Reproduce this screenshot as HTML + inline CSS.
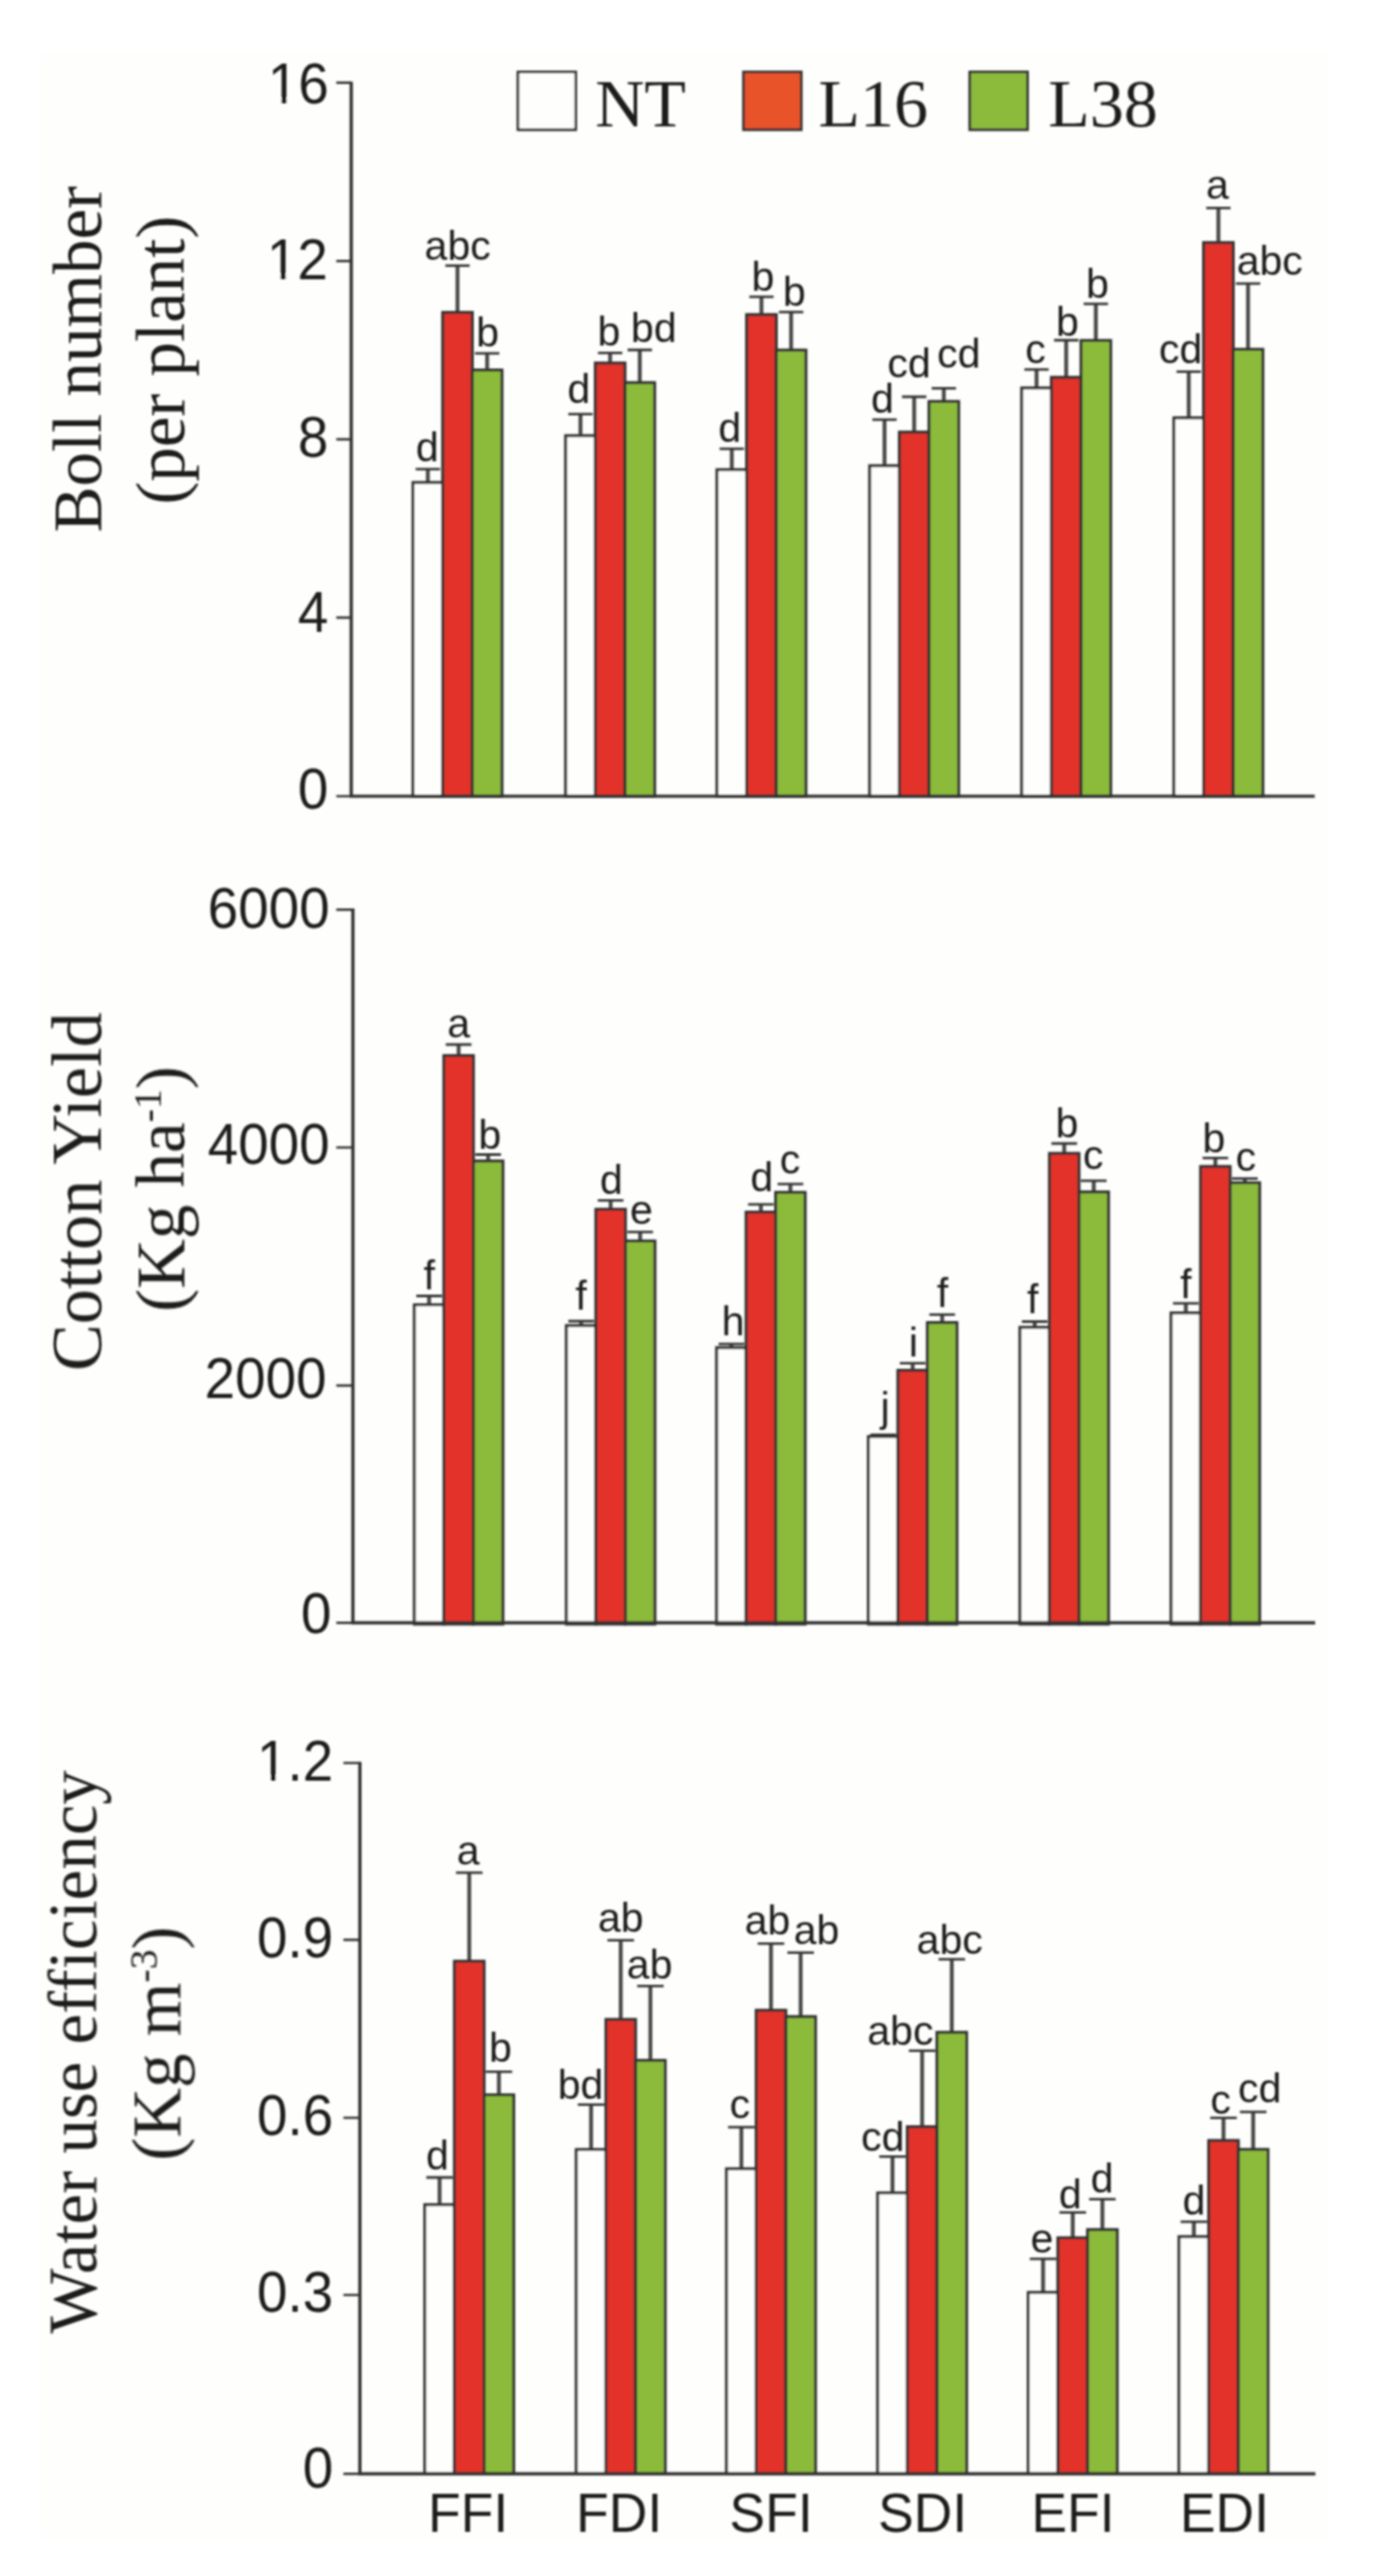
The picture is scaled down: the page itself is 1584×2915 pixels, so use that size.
<!DOCTYPE html>
<html lang="en">
<head>
<meta charset="utf-8">
<title>Boll number, cotton yield and water use efficiency</title>
<style>
html,body{margin:0;padding:0;background:#ffffff;}
body{width:1584px;height:2915px;overflow:hidden;}
svg{display:block;}
.ax{font-family:"Liberation Sans",Arial,Helvetica,sans-serif;font-size:62px;fill:#1e1e1e;}
.lb{font-family:"Liberation Sans",Arial,Helvetica,sans-serif;font-size:46.5px;fill:#1e1e1e;}
.sf{font-family:"Liberation Serif","Times New Roman",Times,serif;font-size:78px;fill:#1c1c1c;}
</style>
</head>
<body>
<svg width="1584" height="2915" viewBox="0 0 1584 2915">
<rect x="0" y="0" width="1584" height="2915" fill="#ffffff"/>
<rect x="44.5" y="60" width="1458.5" height="2813.5" fill="#fefefc"/>
<defs><filter id="soft" x="0" y="0" width="1584" height="2915" filterUnits="userSpaceOnUse"><feGaussianBlur stdDeviation="0.9"/></filter></defs>
<g filter="url(#soft)">
<g>
<path d="M484.07 546V530.8M517.62 353.5V300.6M551.17 418.7V399.8M656.77 493V468.6M690.32 410.8V399.3M723.88 433V396M827.98 531.5V507.8M861.52 356V335.8M895.08 396.2V353.2M1000.77 527V474.8M1034.33 489V449M1067.88 454.3V439.3M1172.78 439V418.2M1206.33 427V385M1239.88 385.3V343.8M1344.98 472.8V420.6M1378.53 274.5V235.3M1412.08 395.3V320.8" fill="none" stroke="#484848" stroke-width="4.4"/>
<path d="M470.32 530.8H497.82M503.88 300.6H531.38M537.42 399.8H564.92M643.02 468.6H670.52M676.57 399.3H704.07M710.12 396H737.62M814.23 507.8H841.73M847.77 335.8H875.27M881.33 353.2H908.83M987.02 474.8H1014.52M1020.58 449H1048.08M1054.12 439.3H1081.62M1159.03 418.2H1186.53M1192.58 385H1220.08M1226.12 343.8H1253.62M1331.23 420.6H1358.73M1364.78 235.3H1392.28M1398.33 320.8H1425.83" fill="none" stroke="#303030" stroke-width="2.8"/>
<g stroke="#303030" stroke-width="3.3"><rect x="467.3" y="546" width="33.55" height="355" fill="#fefefd"/><rect x="500.85" y="353.5" width="33.55" height="547.5" fill="#e3302a"/><rect x="534.4" y="418.7" width="33.55" height="482.3" fill="#8cbb3a"/><rect x="640" y="493" width="33.55" height="408" fill="#fefefd"/><rect x="673.55" y="410.8" width="33.55" height="490.2" fill="#e3302a"/><rect x="707.1" y="433" width="33.55" height="468" fill="#8cbb3a"/><rect x="811.2" y="531.5" width="33.55" height="369.5" fill="#fefefd"/><rect x="844.75" y="356" width="33.55" height="545" fill="#e3302a"/><rect x="878.3" y="396.2" width="33.55" height="504.8" fill="#8cbb3a"/><rect x="984" y="527" width="33.55" height="374" fill="#fefefd"/><rect x="1017.55" y="489" width="33.55" height="412" fill="#e3302a"/><rect x="1051.1" y="454.3" width="33.55" height="446.7" fill="#8cbb3a"/><rect x="1156" y="439" width="33.55" height="462" fill="#fefefd"/><rect x="1189.55" y="427" width="33.55" height="474" fill="#e3302a"/><rect x="1223.1" y="385.3" width="33.55" height="515.7" fill="#8cbb3a"/><rect x="1328.2" y="472.8" width="33.55" height="428.2" fill="#fefefd"/><rect x="1361.75" y="274.5" width="33.55" height="626.5" fill="#e3302a"/><rect x="1395.3" y="395.3" width="33.55" height="505.7" fill="#8cbb3a"/></g>
<path d="M397.4 92.4V901H1487.5" fill="none" stroke="#303030" stroke-width="3.7"/>
<path d="M380.5 93.7H397.4M380.5 295.4H397.4M380.5 497.2H397.4M380.5 698.9H397.4M380.5 901H397.4" fill="none" stroke="#303030" stroke-width="2.7"/>
<g class="ax" text-anchor="end">
<text transform="translate(372 116.61) scale(1 1.06)">16</text>
<text transform="translate(371 315.91) scale(1 1.06)">12</text>
<text transform="translate(371.5 517.11) scale(1 1.06)">8</text>
<text transform="translate(371.5 714.61) scale(1 1.06)">4</text>
<text transform="translate(371.5 914.61) scale(1 1.06)">0</text>
</g>
<g fill="#fefefc"><rect x="306.76" y="111.1" width="11.67" height="6.51"/><rect x="324.31" y="111.1" width="11.18" height="6.51"/><rect x="305.76" y="310.4" width="11.67" height="6.51"/><rect x="323.31" y="310.4" width="11.18" height="6.51"/></g>
<g class="lb" text-anchor="middle">
<text x="483.32" y="522">d</text>
<text x="517.83" y="294">abc</text>
<text x="551.68" y="392">b</text>
<text x="654.82" y="456">d</text>
<text x="688.88" y="390.9">b</text>
<text x="739.7" y="386.9">bd</text>
<text x="825.72" y="500">d</text>
<text x="863.28" y="328.6">b</text>
<text x="898.58" y="345.7">b</text>
<text x="998.52" y="467.1">d</text>
<text x="1028.51" y="426.6">cd</text>
<text x="1084.81" y="415.7">cd</text>
<text x="1171.63" y="410.6">c</text>
<text x="1207.78" y="380.3">b</text>
<text x="1241.78" y="336.9">b</text>
<text x="1335.91" y="411.4">cd</text>
<text x="1377.51" y="225">a</text>
<text x="1436.63" y="310.5">abc</text>
</g>
</g>
<g>
<path d="M485.5 1476.5V1466.5M518.9 1194.5V1182M552.3 1313.8V1306.5M657.5 1500V1495M690.9 1368.4V1358.3M724.3 1404.3V1394.2M827.5 1525V1520.8M860.9 1371.6V1362.9M894.3 1349.3V1339.9M999.2 1625.6V1623.6M1032.6 1550.6V1542.6M1066 1496.6V1487.6M1170.7 1502V1495.5M1204.1 1305.2V1294M1237.5 1348.8V1336.2M1341.7 1485.7V1474.8M1375.1 1320V1310.3M1408.5 1338.4V1333.6" fill="none" stroke="#484848" stroke-width="4.4"/>
<path d="M471 1466.5H500M504.4 1182H533.4M537.8 1306.5H566.8M643 1495H672M676.4 1358.3H705.4M709.8 1394.2H738.8M813 1520.8H842M846.4 1362.9H875.4M879.8 1339.9H908.8M984.7 1623.6H1013.7M1018.1 1542.6H1047.1M1051.5 1487.6H1080.5M1156.2 1495.5H1185.2M1189.6 1294H1218.6M1223 1336.2H1252M1327.2 1474.8H1356.2M1360.6 1310.3H1389.6M1394 1333.6H1423" fill="none" stroke="#303030" stroke-width="2.8"/>
<g stroke="#303030" stroke-width="3.3"><rect x="468.8" y="1476.5" width="33.4" height="361.3" fill="#fefefd"/><rect x="502.2" y="1194.5" width="33.4" height="643.3" fill="#e3302a"/><rect x="535.6" y="1313.8" width="33.4" height="524" fill="#8cbb3a"/><rect x="640.8" y="1500" width="33.4" height="337.8" fill="#fefefd"/><rect x="674.2" y="1368.4" width="33.4" height="469.4" fill="#e3302a"/><rect x="707.6" y="1404.3" width="33.4" height="433.5" fill="#8cbb3a"/><rect x="810.8" y="1525" width="33.4" height="312.8" fill="#fefefd"/><rect x="844.2" y="1371.6" width="33.4" height="466.2" fill="#e3302a"/><rect x="877.6" y="1349.3" width="33.4" height="488.5" fill="#8cbb3a"/><rect x="982.5" y="1625.6" width="33.4" height="212.2" fill="#fefefd"/><rect x="1015.9" y="1550.6" width="33.4" height="287.2" fill="#e3302a"/><rect x="1049.3" y="1496.6" width="33.4" height="341.2" fill="#8cbb3a"/><rect x="1154" y="1502" width="33.4" height="335.8" fill="#fefefd"/><rect x="1187.4" y="1305.2" width="33.4" height="532.6" fill="#e3302a"/><rect x="1220.8" y="1348.8" width="33.4" height="489" fill="#8cbb3a"/><rect x="1325" y="1485.7" width="33.4" height="352.1" fill="#fefefd"/><rect x="1358.4" y="1320" width="33.4" height="517.8" fill="#e3302a"/><rect x="1391.8" y="1338.4" width="33.4" height="499.4" fill="#8cbb3a"/></g>
<path d="M399.3 1028V1836.4H1488" fill="none" stroke="#303030" stroke-width="3.7"/>
<path d="M380.5 1029.3H399.3M380.5 1298.5H399.3M380.5 1567.8H399.3M380.5 1836.4H399.3" fill="none" stroke="#303030" stroke-width="2.7"/>
<g class="ax" text-anchor="end">
<text transform="translate(373 1049.81) scale(1 1.06)">6000</text>
<text transform="translate(373 1316.81) scale(1 1.06)">4000</text>
<text transform="translate(369.5 1582.21) scale(1 1.06)">2000</text>
<text transform="translate(375 1847.61) scale(1 1.06)">0</text>
</g>
<g class="lb" text-anchor="middle">
<text x="485.64" y="1458.5">f</text>
<text x="519.01" y="1174">a</text>
<text x="554.08" y="1299.7">b</text>
<text x="657.44" y="1482">f</text>
<text x="691.72" y="1351.3">d</text>
<text x="725.65" y="1384.5">e</text>
<text x="829.5" y="1511">h</text>
<text x="862.02" y="1348">d</text>
<text x="893.93" y="1327.8">c</text>
<text x="1001.43" y="1607.5">j</text>
<text x="1033.31" y="1534.7">i</text>
<text x="1066.44" y="1478.7">f</text>
<text x="1168.54" y="1486">f</text>
<text x="1207.28" y="1287">b</text>
<text x="1236.93" y="1323">c</text>
<text x="1341.64" y="1469.2">f</text>
<text x="1373.48" y="1303.7">b</text>
<text x="1409.63" y="1324.9">c</text>
</g>
</g>
<g>
<path d="M497.38 2494.8V2464M530.92 2219.3V2119.1M564.48 2370.5V2344.3M668.77 2432.4V2381.6M702.32 2285.2V2195.7M735.88 2331.5V2247.4M838.77 2454.2V2407.1M872.32 2274.8V2199.4M905.88 2282V2209.6M1009.77 2481.5V2440.3M1043.33 2406.6V2320.7M1076.88 2299.8V2217.2M1180.18 2594.1V2556.1M1213.73 2532.3V2503.7M1247.28 2523V2488.7M1350.78 2531V2514.2M1384.33 2422.2V2396.7M1417.88 2432.3V2389.8" fill="none" stroke="#484848" stroke-width="4.4"/>
<path d="M482.38 2464H512.38M515.92 2119.1H545.92M549.48 2344.3H579.48M653.77 2381.6H683.77M687.32 2195.7H717.32M720.88 2247.4H750.88M823.77 2407.1H853.77M857.32 2199.4H887.32M890.88 2209.6H920.88M994.77 2440.3H1024.78M1028.33 2320.7H1058.33M1061.88 2217.2H1091.88M1165.18 2556.1H1195.18M1198.73 2503.7H1228.73M1232.28 2488.7H1262.28M1335.78 2514.2H1365.78M1369.33 2396.7H1399.33M1402.88 2389.8H1432.88" fill="none" stroke="#303030" stroke-width="2.8"/>
<g stroke="#303030" stroke-width="3.3"><rect x="480.6" y="2494.8" width="33.55" height="304.5" fill="#fefefd"/><rect x="514.15" y="2219.3" width="33.55" height="580" fill="#e3302a"/><rect x="547.7" y="2370.5" width="33.55" height="428.8" fill="#8cbb3a"/><rect x="652" y="2432.4" width="33.55" height="366.9" fill="#fefefd"/><rect x="685.55" y="2285.2" width="33.55" height="514.1" fill="#e3302a"/><rect x="719.1" y="2331.5" width="33.55" height="467.8" fill="#8cbb3a"/><rect x="822" y="2454.2" width="33.55" height="345.1" fill="#fefefd"/><rect x="855.55" y="2274.8" width="33.55" height="524.5" fill="#e3302a"/><rect x="889.1" y="2282" width="33.55" height="517.3" fill="#8cbb3a"/><rect x="993" y="2481.5" width="33.55" height="317.8" fill="#fefefd"/><rect x="1026.55" y="2406.6" width="33.55" height="392.7" fill="#e3302a"/><rect x="1060.1" y="2299.8" width="33.55" height="499.5" fill="#8cbb3a"/><rect x="1163.4" y="2594.1" width="33.55" height="205.2" fill="#fefefd"/><rect x="1196.95" y="2532.3" width="33.55" height="267" fill="#e3302a"/><rect x="1230.5" y="2523" width="33.55" height="276.3" fill="#8cbb3a"/><rect x="1334" y="2531" width="33.55" height="268.3" fill="#fefefd"/><rect x="1367.55" y="2422.2" width="33.55" height="377.1" fill="#e3302a"/><rect x="1401.1" y="2432.3" width="33.55" height="367" fill="#8cbb3a"/></g>
<path d="M407.2 1993.7V2799.3H1488.3" fill="none" stroke="#303030" stroke-width="3.7"/>
<path d="M388.5 1995H407.2M388.5 2195.2H407.2M388.5 2396.5H407.2M388.5 2597H407.2M388.5 2799.3H407.2" fill="none" stroke="#303030" stroke-width="2.7"/>
<g class="ax" text-anchor="end">
<text transform="translate(377 2014.81) scale(1 1.06)">1.2</text>
<text transform="translate(377 2214.61) scale(1 1.06)">0.9</text>
<text transform="translate(377 2415.61) scale(1 1.06)">0.6</text>
<text transform="translate(377 2616.41) scale(1 1.06)">0.3</text>
<text transform="translate(377 2815.11) scale(1 1.06)">0</text>
</g>
<g fill="#fefefc"><rect x="294.53" y="2009.3" width="11.67" height="6.51"/><rect x="312.08" y="2009.3" width="11.18" height="6.51"/></g>
<g class="lb" text-anchor="middle">
<text x="494.92" y="2455.2">d</text>
<text x="529.61" y="2110.3">a</text>
<text x="566.18" y="2333">b</text>
<text x="656.8" y="2374.7">bd</text>
<text x="702.29" y="2185.5">ab</text>
<text x="734.99" y="2239">ab</text>
<text x="837.03" y="2397.3">c</text>
<text x="868.29" y="2188.5">ab</text>
<text x="923.79" y="2199.5">ab</text>
<text x="998.81" y="2433.7">cd</text>
<text x="1018.73" y="2313.7">abc</text>
<text x="1074.53" y="2211.4">abc</text>
<text x="1178.85" y="2549">e</text>
<text x="1211.02" y="2499">d</text>
<text x="1247.02" y="2481">d</text>
<text x="1350.82" y="2506.3">d</text>
<text x="1381.03" y="2392">c</text>
<text x="1425.41" y="2379.4">cd</text>
</g>
</g>
<g class="ax" text-anchor="middle" style="font-size:60.5px">
<text transform="translate(529.61 2865.3) scale(1 1.03)">FFI</text>
<text transform="translate(700.51 2865.3) scale(1 1.03)">FDI</text>
<text transform="translate(872.42 2865.3) scale(1 1.03)">SFI</text>
<text transform="translate(1043.82 2865.3) scale(1 1.03)">SDI</text>
<text transform="translate(1214.01 2865.3) scale(1 1.03)">EFI</text>
<text transform="translate(1385.31 2865.3) scale(1 1.03)">EDI</text>
</g>
<g stroke="#303030" stroke-width="3">
<rect x="586" y="81.4" width="65.4" height="65.4" fill="#fefefd"/>
<rect x="841.2" y="81.4" width="65.4" height="65.4" fill="#e8532b"/>
<rect x="1097.2" y="81.4" width="65.4" height="65.4" fill="#8cbb3a"/>
</g>
<g class="sf" style="font-size:77px">
<text x="673.5" y="142.5">NT</text>
<text x="926" y="142.5">L16</text>
<text x="1186" y="142.5">L38</text>
</g>
<text class="sf" text-anchor="middle" transform="translate(113.5 406.5) rotate(-90)">Boll number</text>
<text class="sf" text-anchor="middle" transform="translate(208 407.5) rotate(-90)">(per plant)</text>
<text class="sf" style="font-size:79.6px" text-anchor="middle" transform="translate(114 1348.5) rotate(-90)">Cotton Yield</text>
<text class="sf" text-anchor="middle" transform="translate(208 1345.5) rotate(-90)">(Kg ha<tspan dy="-26.5" font-size="45">-1</tspan><tspan dy="26.5">)</tspan></text>
<text class="sf" text-anchor="middle" transform="translate(108.5 2322) rotate(-90)">Water use efficiency</text>
<text class="sf" text-anchor="middle" transform="translate(203.5 2312.5) rotate(-90)">(Kg m<tspan dy="-26.5" font-size="45">-3</tspan><tspan dy="26.5">)</tspan></text>
</g>
</svg>
</body>
</html>
